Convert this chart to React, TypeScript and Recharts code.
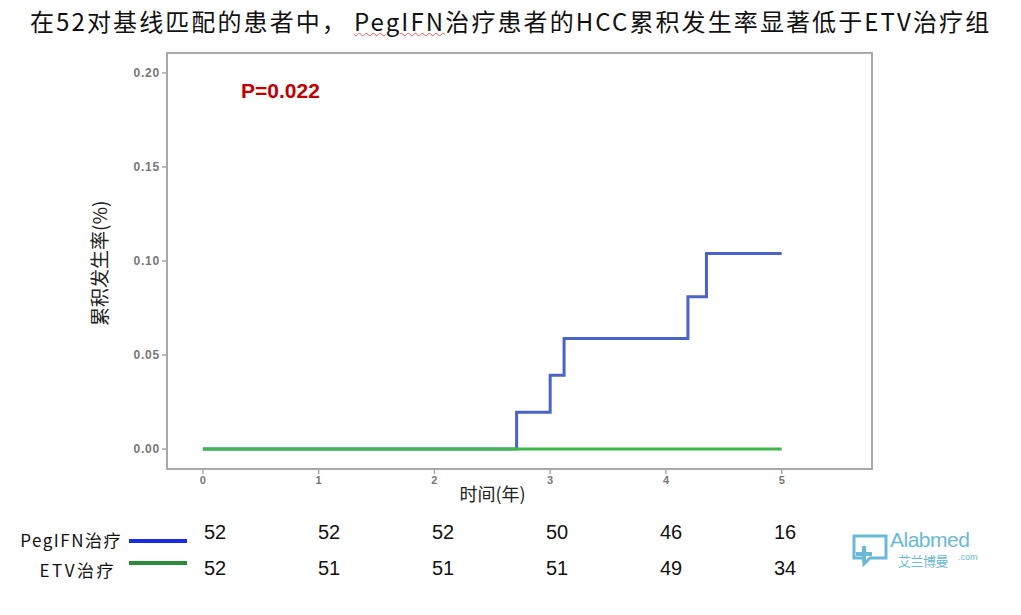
import React from 'react';
import { ComposedChart, Line, XAxis, YAxis, ReferenceArea } from 'recharts';

// 累积发生率 step points (years, cumulative incidence)
const pegTimes = [0, 2.71, 3.0, 3.12, 4.19, 4.35, 5.0];
const pegRates = [0, 0.0196, 0.0392, 0.0588, 0.081, 0.104, 0.104];
const etvTimes = [0, 5.0];
const etvRates = [0, 0];

const xTicks = [0, 1, 2, 3, 4, 5];
const yTicks = [0, 0.05, 0.1, 0.15, 0.2];

// numbers at risk
const pegAtRisk = [52, 52, 52, 50, 46, 16];
const etvAtRisk = [52, 51, 51, 51, 49, 34];

const pegData = pegTimes.map((t, i) => ({ t, v: pegRates[i] }));
const etvData = etvTimes.map((t, i) => ({ t, v: etvRates[i] }));

const X_DOMAIN: [number, number] = [-0.31, 5.78];
const Y_DOMAIN: [number, number] = [-0.0106, 0.2106];

const axisColor = '#a9a9a9';
const yTickStyle = { fill: '#777', fontSize: 12, fontWeight: 700, letterSpacing: 0.8, fontFamily: 'Liberation Sans, Arial, sans-serif' };
const xTickStyle = { fill: '#777', fontSize: 11, fontWeight: 700, fontFamily: 'Liberation Sans, Arial, sans-serif' };
const cjk = '"Noto Sans CJK SC", "Liberation Sans", sans-serif';

const Logo = () => (
  <div style={{ position: 'absolute', left: 850, top: 530, width: 140, height: 44 }}>
    <svg width={44} height={40} style={{ position: 'absolute', left: 0, top: 2 }}>
      <path d="M4 4 H36 V26 H20 L14 32 V26 H4 Z" fill="none" stroke="#6bb9d6" strokeWidth={3} />
      <rect x={6} y={20} width={16} height={4} fill="#6bb9d6" />
      <rect x={12} y={14} width={4} height={16} fill="#6bb9d6" />
    </svg>
    <div style={{ position: 'absolute', left: 40, top: -2, fontFamily: 'Liberation Sans, Arial', fontSize: 21, color: '#6bb9d6', letterSpacing: -0.5 }}>
      Alabmed
    </div>
    <div style={{ position: 'absolute', left: 108, top: 22, fontFamily: 'Liberation Sans, Arial', fontSize: 9, color: '#6bb9d6' }}>.com</div>
    <div style={{ position: 'absolute', left: 48, top: 23, fontFamily: cjk, fontSize: 13, color: '#6bb9d6', lineHeight: '16px', letterSpacing: -0.5 }}>
      艾兰博曼
    </div>
  </div>
);

export default function App() {
  return (
    <div style={{ position: 'absolute', left: 0, top: 0, width: 1021, height: 615, background: '#fff', overflow: 'hidden' }}>
      {/* title */}
      <div style={{ position: 'absolute', left: 30, top: 3, fontFamily: cjk, fontSize: 24, color: '#111', whiteSpace: 'nowrap', letterSpacing: 2.1 }}>
        在52对基线匹配的患者中，
        <span style={{ marginLeft: 6, textDecoration: 'underline wavy #e06060', textDecorationThickness: 1 }}>PegIFN</span>
        治疗患者的HCC累积发生率显著低于ETV治疗组
      </div>

      <div style={{ position: 'absolute', left: 0, top: 0 }}>
        <ComposedChart width={1021} height={615} margin={{ top: 53, right: 149, bottom: 106, left: 87 }}>
          <XAxis
            type="number"
            dataKey="t"
            domain={X_DOMAIN}
            ticks={xTicks}
            allowDataOverflow
            height={40}
            stroke={axisColor}
            strokeWidth={2}
            tickSize={5}
            tick={xTickStyle}
            tickLine={{ stroke: axisColor, strokeWidth: 1.5 }}
            label={{ value: '时间(年)', position: 'insideBottom', dx: -27, dy: -3, fill: '#222', fontSize: 18, fontFamily: cjk }}
          />
          <YAxis
            type="number"
            domain={Y_DOMAIN}
            ticks={yTicks}
            allowDataOverflow
            width={80}
            stroke={axisColor}
            strokeWidth={2}
            tickSize={5}
            tick={yTickStyle}
            tickLine={{ stroke: axisColor, strokeWidth: 1.5 }}
            tickFormatter={(v: number) => v.toFixed(2)}
            label={{ value: '累积发生率(%)', angle: -90, position: 'insideLeft', dx: 8, dy: 65, fill: '#222', fontSize: 19, fontFamily: cjk }}
          />
          <ReferenceArea x1={X_DOMAIN[0]} x2={X_DOMAIN[1]} y1={Y_DOMAIN[0]} y2={Y_DOMAIN[1]} fill="none" stroke={axisColor} strokeWidth={2} />
          <Line data={pegData} dataKey="v" type="stepAfter" stroke="#4a63c8" strokeWidth={3} dot={false} isAnimationActive={false} />
          <Line data={etvData} dataKey="v" type="stepAfter" stroke="#3fb74a" strokeWidth={3} dot={false} isAnimationActive={false} />
        </ComposedChart>
      </div>

      {/* P value */}
      <div style={{ position: 'absolute', left: 241, top: 79, fontFamily: 'Liberation Sans, Arial', fontWeight: 700, fontSize: 21, color: '#c00000' }}>
        P=0.022
      </div>

      {/* at-risk table */}
      <div style={{ position: 'absolute', right: 1021 - 122, top: 527, fontFamily: cjk, fontSize: 17, color: '#111', whiteSpace: 'nowrap', letterSpacing: 1.5 }}>PegIFN治疗</div>
      <div style={{ position: 'absolute', right: 1021 - 116, top: 557, fontFamily: cjk, fontSize: 17, color: '#111', whiteSpace: 'nowrap', letterSpacing: 2.5 }}>ETV治疗</div>
      <div style={{ position: 'absolute', left: 129, top: 539, width: 58, height: 4, background: '#1a2be0' }} />
      <div style={{ position: 'absolute', left: 129, top: 561, width: 58, height: 4, background: '#2d8a3a' }} />
      {pegAtRisk.map((n, i) => (
        <div key={'p' + i} style={{ position: 'absolute', left: 215 + i * 114 - 20, width: 40, textAlign: 'center', top: 521, fontFamily: 'Liberation Sans, Arial', fontSize: 20, color: '#111' }}>{n}</div>
      ))}
      {etvAtRisk.map((n, i) => (
        <div key={'e' + i} style={{ position: 'absolute', left: 215 + i * 114 - 20, width: 40, textAlign: 'center', top: 557, fontFamily: 'Liberation Sans, Arial', fontSize: 20, color: '#111' }}>{n}</div>
      ))}

      <Logo />
    </div>
  );
}
